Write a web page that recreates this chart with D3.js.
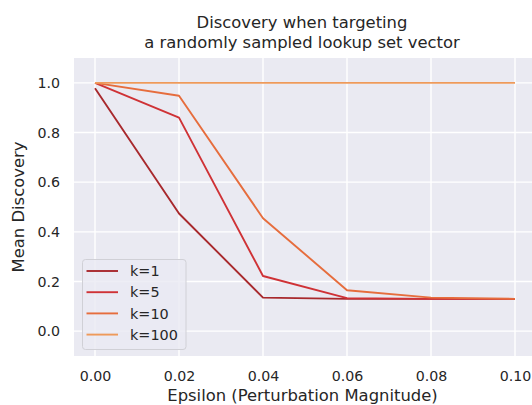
<!DOCTYPE html>
<html>
<head>
<meta charset="utf-8">
<script src="https://cdn.jsdelivr.net/npm/d3@7"></script>
<style>
    body { margin: 0; background: #fff; }
    svg text { font-family: "DejaVu Sans", sans-serif; fill: #262626; }
</style>
</head>
<body>
<svg id="chart" width="532" height="405"></svg>
<script>
// data
var epsilons = [0.00, 0.02, 0.04, 0.06, 0.08, 0.10];
var seriesNames = ['k=1', 'k=5', 'k=10', 'k=100'];
var k1 = [0.978, 0.474, 0.135, 0.130, 0.130, 0.130];
var k5 = [1.000, 0.860, 0.222, 0.133, 0.130, 0.130];
var k10 = [1.000, 0.948, 0.455, 0.165, 0.135, 0.130];
var k100 = [1.000, 1.000, 1.000, 1.000, 1.000, 1.000];
var seriesColors = ['#a8292d', '#cf3236', '#e66d3d', '#ee9a5a'];
var xTicks = [0.00, 0.02, 0.04, 0.06, 0.08, 0.10];
var yTicks = [0.0, 0.2, 0.4, 0.6, 0.8, 1.0];

var series = [k1, k5, k10, k100].map(function(vals, i) {
    return { name: seriesNames[i], color: seriesColors[i], values: vals };
});

var svg = d3.select('svg#chart');
var plot = { left: 74, right: 536, top: 58, bottom: 356 };

var x = d3.scaleLinear()
    .domain([-0.005, 0.105])
    .range([plot.left, plot.right]);

var y = d3.scaleLinear()
    .domain([-0.1, 1.1])
    .range([plot.bottom, plot.top]);

// background
svg.append('rect')
    .attr('x', plot.left)
    .attr('y', plot.top)
    .attr('width', plot.right - plot.left)
    .attr('height', plot.bottom - plot.top)
    .attr('fill', '#eaeaf2');

// grid
svg.append('g')
    .selectAll('line.vgrid')
    .data(xTicks)
    .join('line')
    .attr('x1', function(d) { return x(d); })
    .attr('x2', function(d) { return x(d); })
    .attr('y1', plot.top)
    .attr('y2', plot.bottom)
    .attr('stroke', '#fff')
    .attr('stroke-width', 1.4);

svg.append('g')
    .selectAll('line.hgrid')
    .data(yTicks)
    .join('line')
    .attr('x1', plot.left)
    .attr('x2', plot.right)
    .attr('y1', function(d) { return y(d); })
    .attr('y2', function(d) { return y(d); })
    .attr('stroke', '#fff')
    .attr('stroke-width', 1.4);

// axes (labels only, seaborn darkgrid has no spines/ticks)
var xAxis = svg.append('g')
    .attr('transform', 'translate(0,' + plot.bottom + ')')
    .call(d3.axisBottom(x).tickValues(xTicks).tickFormat(d3.format('.2f')).tickSize(0).tickPadding(15));
var yAxis = svg.append('g')
    .attr('transform', 'translate(' + plot.left + ',0)')
    .call(d3.axisLeft(y).tickValues(yTicks).tickFormat(d3.format('.1f')).tickSize(0).tickPadding(14));

[xAxis, yAxis].forEach(function(a) {
    a.select('.domain').remove();
    a.selectAll('text')
        .style('font-family', '"DejaVu Sans", sans-serif')
        .style('font-size', '14.2px')
        .attr('fill', '#262626');
});

// lines
var line = d3.line()
    .x(function(d, i) { return x(epsilons[i]); })
    .y(function(d) { return y(d); });

svg.append('g')
    .selectAll('path.series')
    .data(series)
    .join('path')
    .attr('fill', 'none')
    .attr('stroke', function(d) { return d.color; })
    .attr('stroke-width', 1.9)
    .attr('stroke-linejoin', 'round')
    .attr('d', function(d) { return line(d.values); });

// title
svg.append('text')
    .attr('x', 302)
    .attr('y', 28)
    .attr('text-anchor', 'middle')
    .style('font-size', '16.4px')
    .text('Discovery when targeting');
svg.append('text')
    .attr('x', 302)
    .attr('y', 47.5)
    .attr('text-anchor', 'middle')
    .style('font-size', '16.4px')
    .text('a randomly sampled lookup set vector');

// axis titles
svg.append('text')
    .attr('x', 302.5)
    .attr('y', 400.5)
    .attr('text-anchor', 'middle')
    .style('font-size', '16.4px')
    .text('Epsilon (Perturbation Magnitude)');
svg.append('text')
    .attr('transform', 'translate(24,' + ((plot.top + plot.bottom) / 2) + ') rotate(-90)')
    .attr('text-anchor', 'middle')
    .style('font-size', '16.4px')
    .text('Mean Discovery');

// legend
var legend = svg.append('g').attr('transform', 'translate(82.5,259.5)');
legend.append('rect')
    .attr('width', 103.5)
    .attr('height', 90)
    .attr('rx', 3)
    .attr('fill', '#eaeaf2')
    .attr('fill-opacity', 0.8)
    .attr('stroke', '#d0d0d6');

var entry = legend.selectAll('g.entry')
    .data(series)
    .join('g')
    .attr('transform', function(d, i) {
        return 'translate(0,' + (11.5 + i * 21.2) + ')';
    });
entry.append('line')
    .attr('x1', 4)
    .attr('x2', 35.5)
    .attr('stroke', function(d) { return d.color; })
    .attr('stroke-width', 1.9);
entry.append('text')
    .attr('x', 47.5)
    .attr('dy', '0.36em')
    .style('font-size', '14.4px')
    .text(function(d) { return d.name; });
</script>
</body>
</html>
